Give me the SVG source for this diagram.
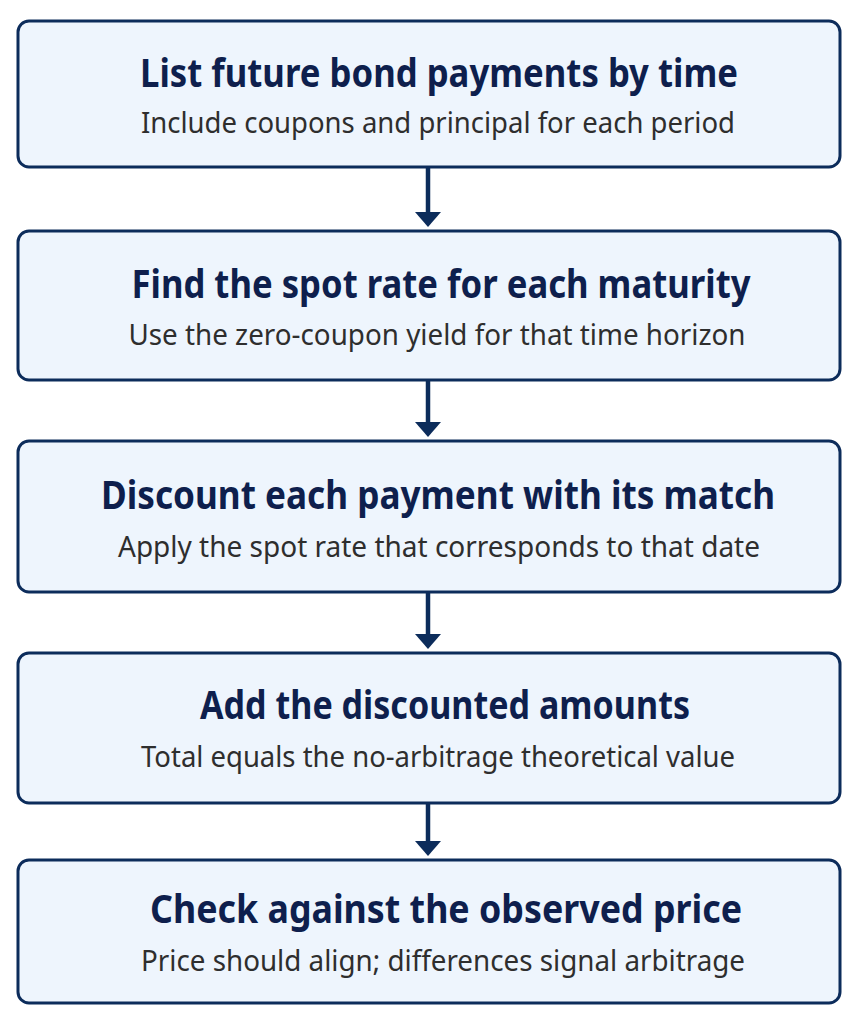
<svg xmlns="http://www.w3.org/2000/svg" width="858" height="1022" viewBox="0 0 858 1022">
<style>
.box{fill:#EEF5FD;stroke:#0C2C5B;stroke-width:3}
.t{font-family:"Noto Sans","Liberation Sans",sans-serif;font-weight:700;font-size:39px;fill:#0E1F4D;text-anchor:middle}
.s{font-family:"Noto Sans","Liberation Sans",sans-serif;font-size:28.5px;fill:#2E2E2E;text-anchor:middle}
.ln{stroke:#0C2C5B;stroke-width:4.5;fill:none}
.hd{fill:#0C2C5B}
</style>
<rect width="858" height="1022" fill="#FFFFFF"/>
<g id="connectors">
<line class="ln" x1="428" y1="168" x2="428" y2="214"/><polygon class="hd" points="415,212 441,212 428,227"/>
<line class="ln" x1="428" y1="381" x2="428" y2="424"/><polygon class="hd" points="415,422 441,422 428,437"/>
<line class="ln" x1="428" y1="593" x2="428" y2="636"/><polygon class="hd" points="415,634 441,634 428,649"/>
<line class="ln" x1="428" y1="804" x2="428" y2="843"/><polygon class="hd" points="415,841 441,841 428,856"/>
</g>
<g id="step1">
<rect class="box" x="18" y="21" width="822" height="146" rx="11"/>
<text class="t" x="439" y="87" textLength="598" lengthAdjust="spacingAndGlyphs">List future bond payments by time</text>
<text class="s" x="438" y="133" textLength="594" lengthAdjust="spacingAndGlyphs">Include coupons and principal for each period</text>
</g>
<g id="step2">
<rect class="box" x="18" y="231" width="822" height="149" rx="11"/>
<text class="t" x="441" y="298" textLength="619" lengthAdjust="spacingAndGlyphs">Find the spot rate for each maturity</text>
<text class="s" x="437" y="345" textLength="617" lengthAdjust="spacingAndGlyphs">Use the zero-coupon yield for that time horizon</text>
</g>
<g id="step3">
<rect class="box" x="18" y="441" width="822" height="151" rx="11"/>
<text class="t" x="438" y="509" textLength="674" lengthAdjust="spacingAndGlyphs">Discount each payment with its match</text>
<text class="s" x="439" y="557" textLength="642" lengthAdjust="spacingAndGlyphs">Apply the spot rate that corresponds to that date</text>
</g>
<g id="step4">
<rect class="box" x="18" y="653" width="822" height="150" rx="11"/>
<text class="t" x="445" y="719" textLength="490" lengthAdjust="spacingAndGlyphs">Add the discounted amounts</text>
<text class="s" x="438" y="767" textLength="594" lengthAdjust="spacingAndGlyphs">Total equals the no-arbitrage theoretical value</text>
</g>
<g id="step5">
<rect class="box" x="18" y="860" width="822" height="143" rx="11"/>
<text class="t" x="446" y="923" textLength="592" lengthAdjust="spacingAndGlyphs">Check against the observed price</text>
<text class="s" x="443" y="971" textLength="604" lengthAdjust="spacingAndGlyphs">Price should align; differences signal arbitrage</text>
</g>
</svg>
